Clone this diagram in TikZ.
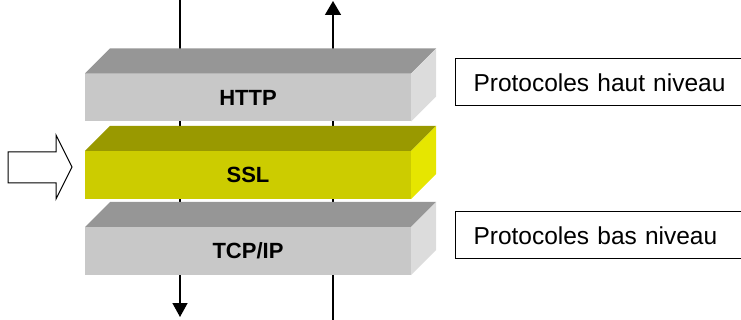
\documentclass[tikz,border=0pt]{standalone}
\usepackage{fontspec}
\setmainfont{Liberation Sans}
\setsansfont{Liberation Sans}
\usepackage{tikz}
\usetikzlibrary{arrows.meta}
\usetikzlibrary{calc}
\definecolor{grayfront}{HTML}{C8C8C8}
\definecolor{graytop}{HTML}{969696}
\definecolor{grayside}{HTML}{DCDCDC}
\definecolor{sslfront}{HTML}{CCCC00}
\definecolor{ssltop}{HTML}{999900}
\definecolor{sslside}{HTML}{E6E600}
\tikzset{
layer/.style = {minimum width=326pt, minimum height=48pt,
                inner sep=0pt, outer sep=0pt, anchor=north west,
                font=\bfseries\fontsize{22}{22}\selectfont},
info/.style = {draw, line width=1pt, minimum height=47pt, anchor=west,
               text width=#1, align=left, inner xsep=18pt,
               font=\fontsize{24.5}{24.5}\selectfont},
info/.default = 290pt % runs past the right edge
}
% name, top of front face, front, top, side, label
\newcommand{\slab}[6]{%
  \node[layer, fill=#3] (#1) at (85,#2) {#6};
  \fill[#4] (#1.north west) -- ++(25,-25) -- ([shift={(25,-25)}]#1.north east) -- (#1.north east) -- cycle;
  \fill[#5] (#1.north east) -- ++(25,-25) -- ([shift={(25,-25)}]#1.south east) -- (#1.south east) -- cycle;}
\begin{document}
\begin{tikzpicture}[x=1pt, y=-1pt]
        \useasboundingbox (0,0) rectangle (741,320);
        \clip (0,0) rectangle (741,320);
        \coordinate (inL) at (180,0);
        \coordinate (outL) at (180,317);
        \coordinate (inR) at (333,320);
        \coordinate (outR) at (333,1);
        \draw[line width=1.5pt, -{Triangle[length=14pt, width=15pt]}] (inL) -- (outL);
        \draw[line width=1.5pt, -{Triangle[length=14pt, width=16pt]}] (inR) -- (outR);
        \slab{http}{73.5}{grayfront}{graytop}{grayside}{HTTP};
        \slab{ssl}{151}{sslfront}{ssltop}{sslside}{SSL};
        \slab{tcpip}{227}{grayfront}{graytop}{grayside}{TCP/IP};
        \draw[line width=1pt, fill=white] (8,152) -- (56,152) -- (56,135) -- (72,167)
              -- (56,199) -- (56,183) -- (8,183) -- cycle;
        \node[info] (high) at (455,82.5) {Protocoles haut niveau};
        \node[info] (low) at (455,235.5) {Protocoles bas niveau};
        \end{tikzpicture}
\end{document}
